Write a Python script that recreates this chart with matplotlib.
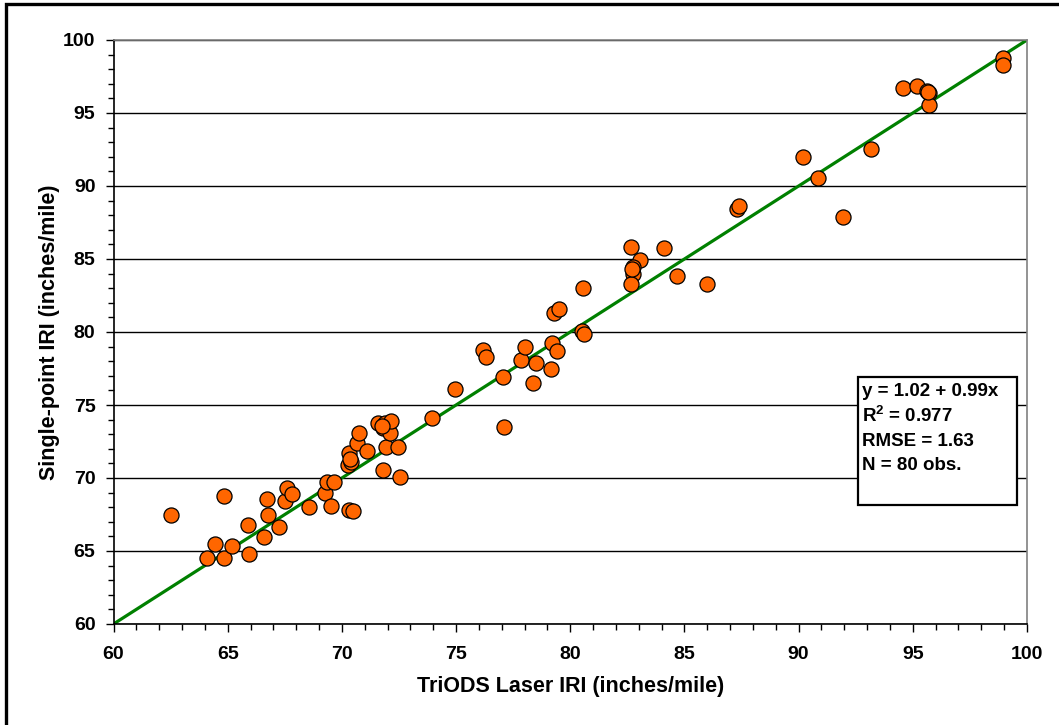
import matplotlib
matplotlib.use("Agg")
import matplotlib.pyplot as plt
from matplotlib.patches import Rectangle
from matplotlib.ticker import MultipleLocator

plt.rcParams['font.family'] = ['Liberation Sans', 'DejaVu Sans']
plt.rcParams['font.weight'] = 'bold'

# TriODS laser IRI vs single-point IRI (inches/mile)
laser_iri = [
    62.5, 64.09, 64.44, 64.84, 64.84, 65.19, 65.9, 65.94, 66.6, 66.71,
    66.77, 67.25, 67.5, 67.59, 67.83, 68.54, 69.25, 69.33, 69.52, 69.64,
    70.3, 70.5, 70.27, 70.3, 70.4, 70.65, 70.75, 71.08, 71.6, 71.8,
    71.8, 71.88, 71.93, 72.1, 72.13, 72.44, 72.54, 73.95, 74.95, 76.2,
    76.29, 77.05, 77.1, 77.86, 78.0, 78.37, 78.5, 79.15, 79.2, 79.4,
    80.5, 80.6, 79.28, 79.5, 80.55, 82.65, 83.05, 82.74, 82.74, 82.65,
    84.1, 84.66, 86.0, 87.29, 87.37, 90.17, 90.83, 91.93, 93.15, 94.55,
    95.2, 95.64, 95.73, 95.7, 98.93, 98.97, 71.75, 82.72, 95.68, 70.35,
]
single_point_iri = [
    67.47, 64.5, 65.5, 64.5, 68.77, 65.34, 66.8, 64.8, 65.96, 68.56,
    67.47, 66.66, 68.42, 69.32, 68.9, 68.02, 68.95, 69.71, 68.1, 69.71,
    67.8, 67.75, 70.9, 71.7, 71.1, 72.4, 73.05, 71.85, 73.77, 70.55,
    73.4, 73.77, 72.1, 73.08, 73.9, 72.1, 70.07, 74.1, 76.1, 78.77,
    78.3, 76.9, 73.49, 78.05, 78.97, 76.5, 77.9, 77.46, 79.25, 78.7,
    80.1, 79.86, 81.3, 81.57, 83.0, 85.85, 84.95, 84.45, 83.97, 83.3,
    85.75, 83.84, 83.3, 88.42, 88.63, 91.99, 90.55, 87.88, 92.5, 96.7,
    96.85, 96.5, 96.4, 95.55, 98.77, 98.3, 73.55, 84.3, 96.45, 71.3,
]

axis_limits = [60, 100]
x_label = "TriODS Laser IRI (inches/mile)"
y_label = "Single-point IRI (inches/mile)"
stats_lines = ["y = 1.02 + 0.99x", "R$^{\\mathbf{2}}$ = 0.977", "RMSE = 1.63", "N = 80 obs."]

plt.rcParams['mathtext.fontset'] = 'custom'
plt.rcParams['mathtext.rm'] = 'Liberation Sans:bold'
plt.rcParams['mathtext.bf'] = 'Liberation Sans:bold'
plt.rcParams['mathtext.default'] = 'bf'

fig = plt.figure(figsize=(10.59, 7.25), dpi=100)
fig.patch.set_facecolor('white')

# outer frame (left and top edges visible)
fig.patches.append(Rectangle((5.5 / 1059, -0.1), 1.2, 1.1 - 4.5 / 725,
                             transform=fig.transFigure, fill=False,
                             edgecolor='black', linewidth=2.4, zorder=0))

ax = fig.add_axes([113.5 / 1059, 1 - 624 / 725, 913.5 / 1059, 584 / 725])
ax.set_xlim(axis_limits)
ax.set_ylim(axis_limits)

ax.xaxis.set_major_locator(MultipleLocator(5))
ax.yaxis.set_major_locator(MultipleLocator(5))
ax.xaxis.set_minor_locator(MultipleLocator(1))
ax.yaxis.set_minor_locator(MultipleLocator(1))
ax.tick_params(which='major', direction='out', length=6, width=1, color='black',
               labelsize=14, pad=7)
ax.tick_params(which='minor', direction='out', length=4, width=1, color='black')
ax.tick_params(axis='x', pad=10)
for lab in ax.get_xticklabels() + ax.get_yticklabels():
    lab.set_fontweight('bold')

ax.grid(axis='y', which='major', color='black', linewidth=1)
ax.set_axisbelow(True)

for side in ('left', 'bottom'):
    ax.spines[side].set_color('black')
    ax.spines[side].set_linewidth(1.2)
for side in ('top', 'right'):
    ax.spines[side].set_color('#808080')
    ax.spines[side].set_linewidth(1.2)

# line of equality
ax.plot(axis_limits, axis_limits, color='#008000', linewidth=2.3, zorder=2,
        solid_capstyle='butt')

ax.scatter(laser_iri, single_point_iri, s=118, facecolor='#FF6600',
           edgecolor='black', linewidth=0.9, zorder=3)

ax.set_xlabel(x_label, fontsize=15.5, fontweight='bold', labelpad=9)
ax.set_ylabel(y_label, fontsize=15.5, fontweight='bold', labelpad=2)

# statistics box
ax.add_patch(Rectangle((0.815, 0.2038), 0.174, 0.2192, transform=ax.transAxes,
                       facecolor='white', edgecolor='black', linewidth=1.6,
                       zorder=5))
line_y = [391, 416, 441, 465]
for txt, py in zip(stats_lines, line_y):
    ax.text(0.8195, (624 - py) / 584, txt, transform=ax.transAxes,
            fontsize=13.5, fontweight='bold', va='center', ha='left', zorder=6)

fig.savefig('out.png', dpi=100)
